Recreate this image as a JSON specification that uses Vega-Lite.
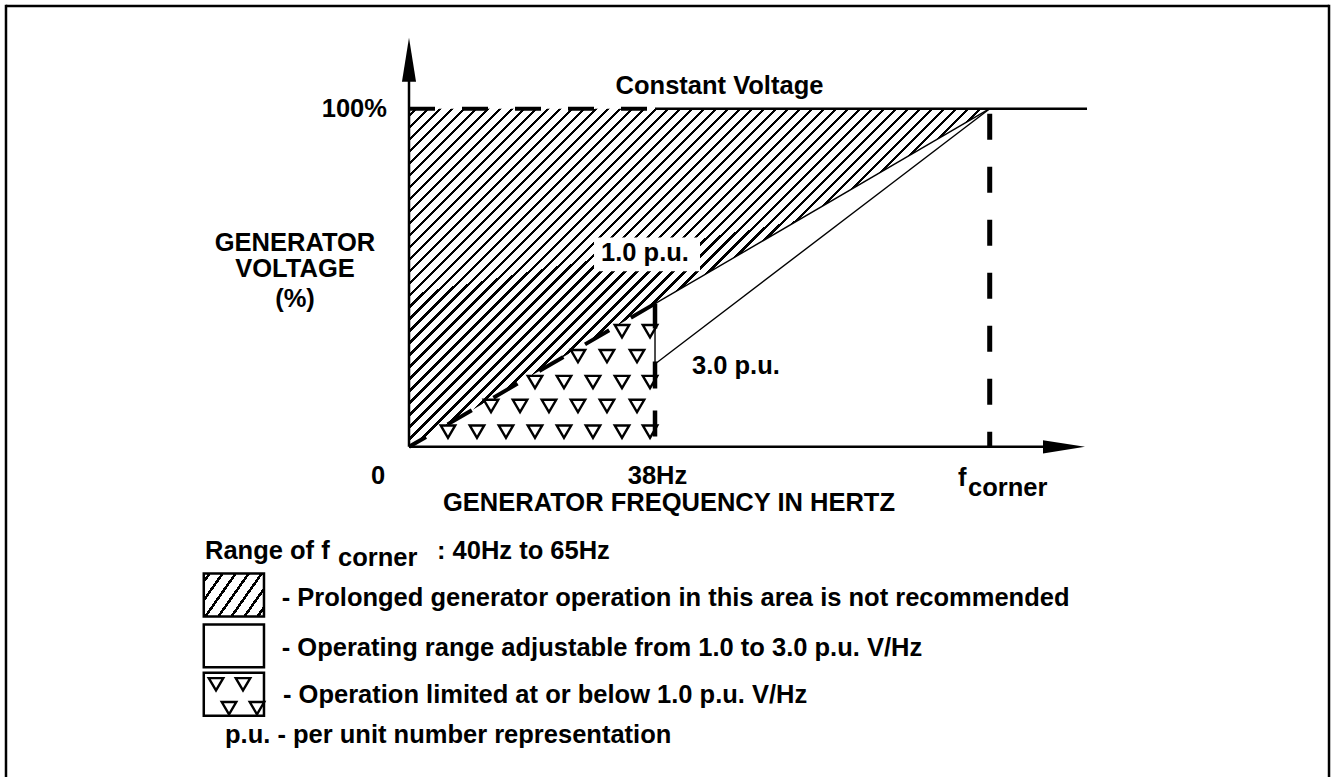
{
  "$schema": "https://vega.github.io/schema/vega-lite/v6.json",
  "width": 1331,
  "height": 779,
  "padding": 0,
  "autosize": {"type": "fit", "contains": "padding"},
  "background": "white",
  "config": {"view": {"stroke": null}},
  "datasets": {
    "frame": [
      {"x": -62.25, "y": 130.38, "x2": 142.11, "y2": 130.38},
      {"x": -62.25, "y": 130.75, "x2": -62.25, "y2": -97.64},
      {"x": 142.11, "y": 130.75, "x2": 142.11, "y2": -97.64}
    ],
    "hatch": [
      {"x": 0, "y": 100, "y2": 0},
      {"x": 38, "y": 100, "y2": 42.36},
      {"x": 89.7, "y": 100, "y2": 100}
    ],
    "labelbox": [{"x": 28.58, "y": 61.95, "x2": 44.95, "y2": 51.92}],
    "legendHatch": [{"x": -31.7, "y": -37.46, "x2": -22.4, "y2": -50.15}],
    "legendBoxes": [
      {"x": -31.7, "y": -52.51, "x2": -22.4, "y2": -65.19},
      {"x": -31.7, "y": -66.81, "x2": -22.4, "y2": -79.5}
    ],
    "axes": [
      {"x": 0, "y": 0, "x2": 0, "y2": 111.5},
      {"x": 0, "y": 0, "x2": 99.01, "y2": 0},
      {"x": 38, "y": 100, "x2": 104.73, "y2": 100}
    ],
    "thin": [
      {"x": 38, "y": 42.36, "x2": 89.7, "y2": 100},
      {"x": 38, "y": 24.5, "x2": 89.7, "y2": 100},
      {"x": 38, "y": 42.36, "x2": 38, "y2": 24.5}
    ],
    "topDash": [{"x": 0, "y": 100, "x2": 38, "y2": 100}],
    "cornerDash": [{"x": 89.7, "y": 98.53, "x2": 89.7, "y2": 0}],
    "diagDash": [{"x": 38, "y": 42.36, "x2": 0, "y2": 0}],
    "vDash38": [{"x": 38, "y": 42.36, "x2": 38, "y2": 0}],
    "triangles": [
      {"x": 6.02, "y": 4.51}, {"x": 10.5, "y": 4.51}, {"x": 14.98, "y": 4.51}, {"x": 19.46, "y": 4.51},
      {"x": 23.94, "y": 4.51}, {"x": 28.42, "y": 4.51}, {"x": 32.9, "y": 4.51}, {"x": 37.23, "y": 4.51},
      {"x": 12.67, "y": 12.09}, {"x": 17.15, "y": 12.09}, {"x": 21.62, "y": 12.09}, {"x": 26.1, "y": 12.09},
      {"x": 30.58, "y": 12.09}, {"x": 35.22, "y": 12.09},
      {"x": 19.46, "y": 19.17}, {"x": 23.94, "y": 19.17}, {"x": 28.42, "y": 19.17}, {"x": 32.9, "y": 19.17},
      {"x": 37.23, "y": 19.17},
      {"x": 26.1, "y": 26.84}, {"x": 30.58, "y": 26.84}, {"x": 35.22, "y": 26.84},
      {"x": 32.9, "y": 34.22}, {"x": 37.23, "y": 34.22},
      {"x": -29.81, "y": -70.21}, {"x": -25.64, "y": -70.21},
      {"x": -27.8, "y": -77.29}, {"x": -23.48, "y": -77.29}
    ],
    "arrowUp": [{"x": 0, "y": 114.45}],
    "arrowRight": [{"x": 101.17, "y": 0}],
    "textCenter": [
      {"x": 47.96, "y": 104.42, "t": "Constant Voltage"},
      {"x": -17.61, "y": 57.82, "t": "GENERATOR"},
      {"x": -17.61, "y": 50.15, "t": "VOLTAGE"},
      {"x": -17.61, "y": 41.42, "t": "(%)"},
      {"x": -4.79, "y": -10.91, "t": "0"},
      {"x": 38.38, "y": -10.91, "t": "38Hz"},
      {"x": 40.16, "y": -18.88, "t": "GENERATOR FREQUENCY IN HERTZ"}
    ],
    "textLeft": [
      {"x": 84.8, "y": -11.5, "t": "f"},
      {"x": 86.35, "y": -14.45, "t": "corner"},
      {"x": 29.66, "y": 54.87, "t": "1.0 p.u."},
      {"x": 43.71, "y": 21.53, "t": "3.0 p.u."},
      {"x": -31.51, "y": -33.04, "t": "Range of f"},
      {"x": -10.97, "y": -35.1, "t": "corner"},
      {"x": 4.32, "y": -33.04, "t": ": 40Hz to 65Hz"},
      {"x": -19.66, "y": -47.11, "t": "- Prolonged generator operation in this area is not recommended"},
      {"x": -19.66, "y": -61.95, "t": "- Operating range adjustable from 1.0 to 3.0 p.u. V/Hz"},
      {"x": -19.46, "y": -75.81, "t": "- Operation limited at or below 1.0 p.u. V/Hz"},
      {"x": -28.42, "y": -87.61, "t": "p.u. - per unit number representation"}
    ],
    "textRight": [
      {"x": -3.4, "y": 97.64, "t": "100%"}
    ]
  },
  "encoding": {
    "x": {"field": "x", "type": "quantitative", "scale": {"domain": [-63.176, 142.416], "nice": false, "zero": false}, "axis": null},
    "y": {"field": "y", "type": "quantitative", "scale": {"domain": [-97.64, 132.153], "nice": false, "zero": false}, "axis": null}
  },
  "layer": [
    {
      "data": {"name": "frame"},
      "mark": {"type": "rule", "color": "#000", "strokeWidth": 2.5},
      "encoding": {"x2": {"field": "x2"}, "y2": {"field": "y2"}}
    },
    {
      "data": {"name": "hatch"},
      "mark": {
        "type": "area",
        "strokeWidth": 0,
        "fill": {
          "gradient": "linear", "x1": 0, "y1": 0, "x2": 1.23266, "y2": 0.71923,
          "stops": [
            {"offset": 0, "color": "#fff"},
            {"offset": 0.006, "color": "#fff"}, {"offset": 0.006, "color": "#000"}, {"offset": 0.0096, "color": "#000"}, {"offset": 0.0096, "color": "#fff"},
            {"offset": 0.0185, "color": "#fff"}, {"offset": 0.0185, "color": "#000"}, {"offset": 0.0221, "color": "#000"}, {"offset": 0.0221, "color": "#fff"},
            {"offset": 0.031, "color": "#fff"}, {"offset": 0.031, "color": "#000"}, {"offset": 0.0346, "color": "#000"}, {"offset": 0.0346, "color": "#fff"},
            {"offset": 0.0435, "color": "#fff"}, {"offset": 0.0435, "color": "#000"}, {"offset": 0.0471, "color": "#000"}, {"offset": 0.0471, "color": "#fff"},
            {"offset": 0.056, "color": "#fff"}, {"offset": 0.056, "color": "#000"}, {"offset": 0.0596, "color": "#000"}, {"offset": 0.0596, "color": "#fff"},
            {"offset": 0.0685, "color": "#fff"}, {"offset": 0.0685, "color": "#000"}, {"offset": 0.0721, "color": "#000"}, {"offset": 0.0721, "color": "#fff"},
            {"offset": 0.081, "color": "#fff"}, {"offset": 0.081, "color": "#000"}, {"offset": 0.0846, "color": "#000"}, {"offset": 0.0846, "color": "#fff"},
            {"offset": 0.0935, "color": "#fff"}, {"offset": 0.0935, "color": "#000"}, {"offset": 0.0971, "color": "#000"}, {"offset": 0.0971, "color": "#fff"},
            {"offset": 0.106, "color": "#fff"}, {"offset": 0.106, "color": "#000"}, {"offset": 0.1096, "color": "#000"}, {"offset": 0.1096, "color": "#fff"},
            {"offset": 0.1185, "color": "#fff"}, {"offset": 0.1185, "color": "#000"}, {"offset": 0.1221, "color": "#000"}, {"offset": 0.1221, "color": "#fff"},
            {"offset": 0.131, "color": "#fff"}, {"offset": 0.131, "color": "#000"}, {"offset": 0.1346, "color": "#000"}, {"offset": 0.1346, "color": "#fff"},
            {"offset": 0.1435, "color": "#fff"}, {"offset": 0.1435, "color": "#000"}, {"offset": 0.1471, "color": "#000"}, {"offset": 0.1471, "color": "#fff"},
            {"offset": 0.156, "color": "#fff"}, {"offset": 0.156, "color": "#000"}, {"offset": 0.1596, "color": "#000"}, {"offset": 0.1596, "color": "#fff"},
            {"offset": 0.1685, "color": "#fff"}, {"offset": 0.1685, "color": "#000"}, {"offset": 0.1721, "color": "#000"}, {"offset": 0.1721, "color": "#fff"},
            {"offset": 0.181, "color": "#fff"}, {"offset": 0.181, "color": "#000"}, {"offset": 0.1846, "color": "#000"}, {"offset": 0.1846, "color": "#fff"},
            {"offset": 0.1935, "color": "#fff"}, {"offset": 0.1935, "color": "#000"}, {"offset": 0.1971, "color": "#000"}, {"offset": 0.1971, "color": "#fff"},
            {"offset": 0.206, "color": "#fff"}, {"offset": 0.206, "color": "#000"}, {"offset": 0.2096, "color": "#000"}, {"offset": 0.2096, "color": "#fff"},
            {"offset": 0.2185, "color": "#fff"}, {"offset": 0.2185, "color": "#000"}, {"offset": 0.2221, "color": "#000"}, {"offset": 0.2221, "color": "#fff"},
            {"offset": 0.231, "color": "#fff"}, {"offset": 0.231, "color": "#000"}, {"offset": 0.2346, "color": "#000"}, {"offset": 0.2346, "color": "#fff"},
            {"offset": 0.2435, "color": "#fff"}, {"offset": 0.2435, "color": "#000"}, {"offset": 0.2471, "color": "#000"}, {"offset": 0.2471, "color": "#fff"},
            {"offset": 0.256, "color": "#fff"}, {"offset": 0.256, "color": "#000"}, {"offset": 0.2596, "color": "#000"}, {"offset": 0.2596, "color": "#fff"},
            {"offset": 0.2685, "color": "#fff"}, {"offset": 0.2685, "color": "#000"}, {"offset": 0.2721, "color": "#000"}, {"offset": 0.2721, "color": "#fff"},
            {"offset": 0.281, "color": "#fff"}, {"offset": 0.281, "color": "#000"}, {"offset": 0.2846, "color": "#000"}, {"offset": 0.2846, "color": "#fff"},
            {"offset": 0.2935, "color": "#fff"}, {"offset": 0.2935, "color": "#000"}, {"offset": 0.2971, "color": "#000"}, {"offset": 0.2971, "color": "#fff"},
            {"offset": 0.306, "color": "#fff"}, {"offset": 0.306, "color": "#000"}, {"offset": 0.3096, "color": "#000"}, {"offset": 0.3096, "color": "#fff"},
            {"offset": 0.3185, "color": "#fff"}, {"offset": 0.3185, "color": "#000"}, {"offset": 0.3221, "color": "#000"}, {"offset": 0.3221, "color": "#fff"},
            {"offset": 0.331, "color": "#fff"}, {"offset": 0.331, "color": "#000"}, {"offset": 0.3346, "color": "#000"}, {"offset": 0.3346, "color": "#fff"},
            {"offset": 0.3435, "color": "#fff"}, {"offset": 0.3435, "color": "#000"}, {"offset": 0.3471, "color": "#000"}, {"offset": 0.3471, "color": "#fff"},
            {"offset": 0.356, "color": "#fff"}, {"offset": 0.356, "color": "#000"}, {"offset": 0.3596, "color": "#000"}, {"offset": 0.3596, "color": "#fff"},
            {"offset": 0.3685, "color": "#fff"}, {"offset": 0.3685, "color": "#000"}, {"offset": 0.3721, "color": "#000"}, {"offset": 0.3721, "color": "#fff"},
            {"offset": 0.381, "color": "#fff"}, {"offset": 0.381, "color": "#000"}, {"offset": 0.3846, "color": "#000"}, {"offset": 0.3846, "color": "#fff"},
            {"offset": 0.3935, "color": "#fff"}, {"offset": 0.3935, "color": "#000"}, {"offset": 0.3971, "color": "#000"}, {"offset": 0.3971, "color": "#fff"},
            {"offset": 0.406, "color": "#fff"}, {"offset": 0.406, "color": "#000"}, {"offset": 0.4096, "color": "#000"}, {"offset": 0.4096, "color": "#fff"},
            {"offset": 0.4185, "color": "#fff"}, {"offset": 0.4185, "color": "#000"}, {"offset": 0.4221, "color": "#000"}, {"offset": 0.4221, "color": "#fff"},
            {"offset": 0.431, "color": "#fff"}, {"offset": 0.431, "color": "#000"}, {"offset": 0.4346, "color": "#000"}, {"offset": 0.4346, "color": "#fff"},
            {"offset": 0.4435, "color": "#fff"}, {"offset": 0.4435, "color": "#000"}, {"offset": 0.4471, "color": "#000"}, {"offset": 0.4471, "color": "#fff"},
            {"offset": 0.456, "color": "#fff"}, {"offset": 0.456, "color": "#000"}, {"offset": 0.4596, "color": "#000"}, {"offset": 0.4596, "color": "#fff"},
            {"offset": 0.4685, "color": "#fff"}, {"offset": 0.4685, "color": "#000"}, {"offset": 0.4721, "color": "#000"}, {"offset": 0.4721, "color": "#fff"},
            {"offset": 0.481, "color": "#fff"}, {"offset": 0.481, "color": "#000"}, {"offset": 0.4846, "color": "#000"}, {"offset": 0.4846, "color": "#fff"},
            {"offset": 0.4935, "color": "#fff"}, {"offset": 0.4935, "color": "#000"}, {"offset": 0.4971, "color": "#000"}, {"offset": 0.4971, "color": "#fff"},
            {"offset": 0.506, "color": "#fff"}, {"offset": 0.506, "color": "#000"}, {"offset": 0.5096, "color": "#000"}, {"offset": 0.5096, "color": "#fff"},
            {"offset": 0.5185, "color": "#fff"}, {"offset": 0.5185, "color": "#000"}, {"offset": 0.5221, "color": "#000"}, {"offset": 0.5221, "color": "#fff"},
            {"offset": 0.531, "color": "#fff"}, {"offset": 0.531, "color": "#000"}, {"offset": 0.5346, "color": "#000"}, {"offset": 0.5346, "color": "#fff"},
            {"offset": 0.5435, "color": "#fff"}, {"offset": 0.5435, "color": "#000"}, {"offset": 0.5471, "color": "#000"}, {"offset": 0.5471, "color": "#fff"},
            {"offset": 0.556, "color": "#fff"}, {"offset": 0.556, "color": "#000"}, {"offset": 0.5596, "color": "#000"}, {"offset": 0.5596, "color": "#fff"},
            {"offset": 0.5685, "color": "#fff"}, {"offset": 0.5685, "color": "#000"}, {"offset": 0.5721, "color": "#000"}, {"offset": 0.5721, "color": "#fff"},
            {"offset": 0.581, "color": "#fff"}, {"offset": 0.581, "color": "#000"}, {"offset": 0.5846, "color": "#000"}, {"offset": 0.5846, "color": "#fff"},
            {"offset": 0.5935, "color": "#fff"}, {"offset": 0.5935, "color": "#000"}, {"offset": 0.5971, "color": "#000"}, {"offset": 0.5971, "color": "#fff"},
            {"offset": 1, "color": "#fff"}
          ]
        }
      },
      "encoding": {"y2": {"field": "y2"}}
    },
    {
      "data": {"name": "labelbox"},
      "mark": {"type": "rect", "fill": "#fff", "strokeWidth": 0},
      "encoding": {"x2": {"field": "x2"}, "y2": {"field": "y2"}}
    },
    {
      "data": {"name": "legendHatch"},
      "mark": {
        "type": "rect", "stroke": "#000", "strokeWidth": 2.5,
        "fill": {
          "gradient": "linear", "x1": 0, "y1": 0, "x2": 1.38492, "y2": 0.69477,
          "stops": [
            {"offset": 0, "color": "#fff"},
            {"offset": 0.04, "color": "#fff"}, {"offset": 0.04, "color": "#000"}, {"offset": 0.07, "color": "#000"}, {"offset": 0.07, "color": "#fff"},
            {"offset": 0.165, "color": "#fff"}, {"offset": 0.165, "color": "#000"}, {"offset": 0.195, "color": "#000"}, {"offset": 0.195, "color": "#fff"},
            {"offset": 0.29, "color": "#fff"}, {"offset": 0.29, "color": "#000"}, {"offset": 0.32, "color": "#000"}, {"offset": 0.32, "color": "#fff"},
            {"offset": 0.415, "color": "#fff"}, {"offset": 0.415, "color": "#000"}, {"offset": 0.445, "color": "#000"}, {"offset": 0.445, "color": "#fff"},
            {"offset": 0.54, "color": "#fff"}, {"offset": 0.54, "color": "#000"}, {"offset": 0.57, "color": "#000"}, {"offset": 0.57, "color": "#fff"},
            {"offset": 0.665, "color": "#fff"}, {"offset": 0.665, "color": "#000"}, {"offset": 0.695, "color": "#000"}, {"offset": 0.695, "color": "#fff"},
            {"offset": 0.79, "color": "#fff"}, {"offset": 0.79, "color": "#000"}, {"offset": 0.82, "color": "#000"}, {"offset": 0.82, "color": "#fff"},
            {"offset": 1, "color": "#fff"}
          ]
        }
      },
      "encoding": {"x2": {"field": "x2"}, "y2": {"field": "y2"}}
    },
    {
      "data": {"name": "legendBoxes"},
      "mark": {"type": "rect", "fill": "#fff", "stroke": "#000", "strokeWidth": 2.5},
      "encoding": {"x2": {"field": "x2"}, "y2": {"field": "y2"}}
    },
    {
      "data": {"name": "axes"},
      "mark": {"type": "rule", "color": "#000", "strokeWidth": 2.5},
      "encoding": {"x2": {"field": "x2"}, "y2": {"field": "y2"}}
    },
    {
      "data": {"name": "thin"},
      "mark": {"type": "rule", "color": "#000", "strokeWidth": 1.4},
      "encoding": {"x2": {"field": "x2"}, "y2": {"field": "y2"}}
    },
    {
      "data": {"name": "topDash"},
      "mark": {"type": "rule", "color": "#000", "strokeWidth": 4, "strokeDash": [26, 27]},
      "encoding": {"x2": {"field": "x2"}, "y2": {"field": "y2"}}
    },
    {
      "data": {"name": "cornerDash"},
      "mark": {"type": "rule", "color": "#000", "strokeWidth": 5, "strokeDash": [26, 27]},
      "encoding": {"x2": {"field": "x2"}, "y2": {"field": "y2"}}
    },
    {
      "data": {"name": "diagDash"},
      "mark": {"type": "rule", "color": "#000", "strokeWidth": 4, "strokeDash": [28, 25]},
      "encoding": {"x2": {"field": "x2"}, "y2": {"field": "y2"}}
    },
    {
      "data": {"name": "vDash38"},
      "mark": {"type": "rule", "color": "#000", "strokeWidth": 4.5, "strokeDash": [25, 33, 27, 22, 26, 20]},
      "encoding": {"x2": {"field": "x2"}, "y2": {"field": "y2"}}
    },
    {
      "data": {"name": "triangles"},
      "mark": {"type": "point", "shape": "M-1,-0.85L1,-0.85L0,0.85Z", "size": 210, "filled": false, "stroke": "#000", "strokeWidth": 2.4, "opacity": 1}
    },
    {
      "data": {"name": "arrowUp"},
      "mark": {"type": "point", "shape": "M0,-1L0.32,1L-0.32,1Z", "size": 1936, "filled": true, "fill": "#000", "strokeWidth": 0, "opacity": 1}
    },
    {
      "data": {"name": "arrowRight"},
      "mark": {"type": "point", "shape": "M1,0L-1,-0.32L-1,0.32Z", "size": 1764, "filled": true, "fill": "#000", "strokeWidth": 0, "opacity": 1}
    },
    {
      "data": {"name": "textCenter"},
      "mark": {"type": "text", "align": "center", "baseline": "alphabetic", "font": "Liberation Sans", "fontWeight": "bold", "fontSize": 25.5, "color": "#000"},
      "encoding": {"text": {"field": "t"}}
    },
    {
      "data": {"name": "textLeft"},
      "mark": {"type": "text", "align": "left", "baseline": "alphabetic", "font": "Liberation Sans", "fontWeight": "bold", "fontSize": 25.5, "color": "#000"},
      "encoding": {"text": {"field": "t"}}
    },
    {
      "data": {"name": "textRight"},
      "mark": {"type": "text", "align": "right", "baseline": "alphabetic", "font": "Liberation Sans", "fontWeight": "bold", "fontSize": 25.5, "color": "#000"},
      "encoding": {"text": {"field": "t"}}
    }
  ]
}
